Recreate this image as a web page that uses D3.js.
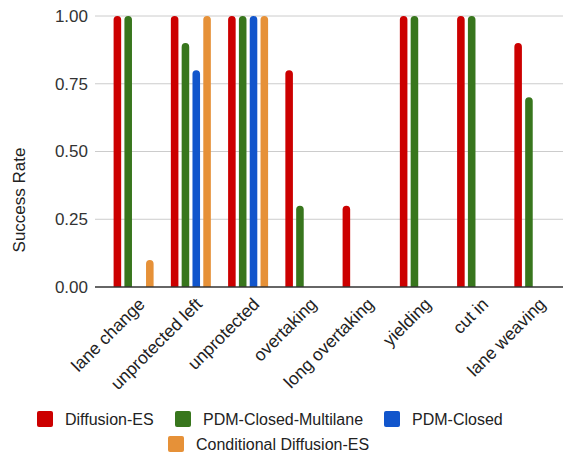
<!DOCTYPE html>
<html><head><meta charset="utf-8">
<script src="https://cdn.jsdelivr.net/npm/d3@7"></script>
<style>body{margin:0;background:#fff}svg{display:block;font-family:"Liberation Sans",Arial,sans-serif}</style>
</head><body><svg id="c" width="563" height="453"></svg>
<script>
const categories = ["lane change","unprotected left","unprotected","overtaking","long overtaking","yielding","cut in","lane weaving"];
const seriesNames = ["Diffusion-ES","PDM-Closed-Multilane","PDM-Closed","Conditional Diffusion-ES"];
const diffusionES = [1.0,1.0,1.0,0.8,0.3,1.0,1.0,0.9];
const pdmClosedMultilane = [1.0,0.9,1.0,0.3,null,1.0,1.0,0.7];
const pdmClosed = [null,0.8,1.0,null,null,null,null,null];
const conditionalDiffusionES = [0.1,1.0,1.0,null,null,null,null,null];
const yTicks = [0,0.25,0.5,0.75,1.0];
const colors = ["#cc0000","#38761d","#1155cc","#e69138"];
const FONT = '"Liberation Sans",Arial,sans-serif';

const seriesValues = [diffusionES,pdmClosedMultilane,pdmClosed,conditionalDiffusionES];
const svg = d3.select("#c");
const x0 = d3.scaleBand().domain(categories).range([105,563]);
const x1 = d3.scaleBand().domain(seriesNames).range([8.6,48.6]).paddingInner(0.3);
const y = d3.scaleLinear().domain([0,1]).range([287,16]);

svg.append("g").selectAll("line").data(yTicks.filter(d=>d>0)).join("line")
  .attr("x1",95).attr("x2",563).attr("y1",d=>y(d)).attr("y2",d=>y(d))
  .attr("stroke","#cccccc").attr("stroke-width",1);

const yAxis = d3.axisLeft(y).tickValues(yTicks).tickFormat(d3.format(".2f")).tickSize(0).tickPadding(7);
const ya = svg.append("g").attr("transform","translate(95,0)").call(yAxis);
ya.select(".domain").remove();
ya.selectAll("text").attr("font-size",17).attr("fill","#333").attr("font-family",FONT);

svg.append("text").attr("transform","translate(25,200) rotate(-90)")
  .attr("text-anchor","middle").attr("font-size",17).attr("fill","#222").text("Success Rate");

const data = [];
categories.forEach((c,i)=>seriesNames.forEach((s,j)=>{
  const v = seriesValues[j][i];
  if(v!=null) data.push({c,s,v,color:colors[j]});
}));
const bw = x1.bandwidth(), r = bw/2;
svg.append("g").selectAll("path").data(data).join("path")
  .attr("fill",d=>d.color)
  .attr("d",d=>{
    const xl = x0(d.c)+x1(d.s), yt = y(d.v), yb = y(0);
    return `M${xl},${yb}V${yt+r}A${r},${r} 0 0 1 ${xl+bw},${yt+r}V${yb}Z`;
  });

svg.append("line").attr("x1",95).attr("x2",563).attr("y1",y(0)).attr("y2",y(0))
  .attr("stroke","#333").attr("stroke-width",1.3);

const xAxis = d3.axisBottom(x0).tickSize(0);
const xa = svg.append("g").attr("transform",`translate(0,${y(0)})`).call(xAxis);
xa.select(".domain").remove();
xa.selectAll("text").attr("font-size",17.5).attr("fill","#222").attr("font-family",FONT)
  .attr("text-anchor","end").attr("dy","0.35em").attr("y",0)
  .attr("transform","translate(8,14) rotate(-45)");

const legendItems = [
  {s:seriesNames[0],c:colors[0],x:37,y:411},
  {s:seriesNames[1],c:colors[1],x:175,y:411},
  {s:seriesNames[2],c:colors[2],x:384,y:411},
  {s:seriesNames[3],c:colors[3],x:168,y:436}
];
const lg = svg.append("g").selectAll("g").data(legendItems).join("g")
  .attr("transform",d=>`translate(${d.x},${d.y})`);
lg.append("rect").attr("width",16).attr("height",16).attr("rx",2).attr("fill",d=>d.c);
lg.append("text").attr("x",28).attr("y",8).attr("dy","0.35em").attr("font-size",16).attr("fill","#222").text(d=>d.s);
</script></body></html>
